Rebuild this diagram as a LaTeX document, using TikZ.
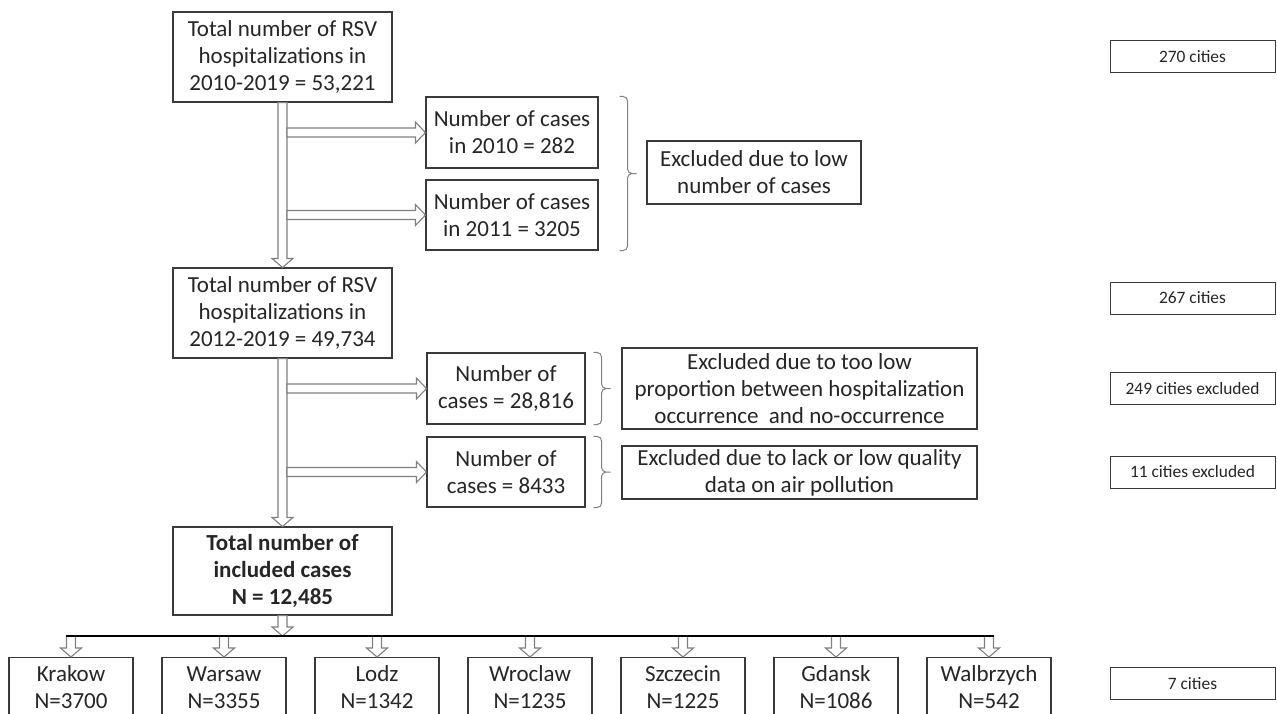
\documentclass[tikz,border=0pt]{standalone}
\usepackage{fontspec}
\setmainfont{Carlito}
\usetikzlibrary{calc}

\definecolor{boxline}{HTML}{3A3A3A}
\definecolor{arrline}{HTML}{808080}

\begin{document}
\begin{tikzpicture}[x=1pt, y=-1pt,
    box/.style={draw=boxline, line width=1.1pt, text=black!85, align=center,
        inner sep=0pt, font=\fontsize{23}{27}\selectfont},
    city/.style={box, anchor=north, minimum width=124pt, minimum height=60pt},
    cnt/.style={draw=boxline, line width=1pt, text=black!85, inner sep=0pt,
        minimum width=165pt, minimum height=32pt, font=\fontsize{17.4}{20}\selectfont},
    darrow/.style={draw=arrline, fill=white, line width=1.1pt, line join=miter,
        to path={let \p1=(\tikztostart), \p2=(\tikztotarget) in
        (\x1-4.5pt,\y1) -- (\x1-4.5pt,\y2+9pt) -- (\x1-10.5pt,\y2+9pt) -- (\x1,\y2)
        -- (\x1+10.5pt,\y2+9pt) -- (\x1+4.5pt,\y2+9pt) -- (\x1+4.5pt,\y1) -- cycle}},
    rarrow/.style={draw=arrline, fill=white, line width=1.1pt, line join=miter,
        to path={let \p1=(\tikztostart), \p2=(\tikztotarget) in
        (\x1,\y1+4.5pt) -- (\x2-10pt,\y1+4.5pt) -- (\x2-10pt,\y1+10.5pt) -- (\x2,\y1)
        -- (\x2-10pt,\y1-10.5pt) -- (\x2-10pt,\y1-4.5pt) -- (\x1,\y1-4.5pt) -- cycle}},
    brc/.style={draw=arrline, line width=1pt, rounded corners=4.5pt,
        to path={let \p1=(\tikztostart), \p2=(\tikztotarget), \n1={(\y1+\y2)/2} in
        (\x1,\y1) -- (\x1+8pt,\y1) -- (\x1+8pt,\n1) -- (\x1+17pt,\n1)
        (\x1,\y2) -- (\x1+8pt,\y2) -- (\x1+8pt,\n1) -- (\x1+17pt,\n1)}}
]
    \useasboundingbox[fill=white] (0,0) rectangle (1277,713);

    % Main column
    \node[box, minimum width=219pt, minimum height=90pt] (tot1) at (282.5,57)
        {Total number of RSV\\hospitalizations in\\2010-2019 = 53,221};
    \node[box, minimum width=219pt, minimum height=90pt] (tot2) at (282.5,313)
        {Total number of RSV\\hospitalizations in\\2012-2019 = 49,734};
    \node[box, minimum width=219pt, minimum height=88pt] (tot3) at (282.5,571)
        {\textbf{Total number of}\\\textbf{included cases}\\\textbf{N = 12,485}};

    % Excluded years
    \node[box, minimum width=172pt, minimum height=71pt] (n2010) at (512,132.5)
        {Number of cases\\in 2010 = 282};
    \node[box, minimum width=172pt, minimum height=70pt] (n2011) at (512,215)
        {Number of cases\\in 2011 = 3205};
    \node[box, minimum width=214pt, minimum height=63pt] (excl1) at (754,172.5)
        {Excluded due to low\\number of cases};

    % Excluded cities
    \node[box, minimum width=158pt, minimum height=71pt] (nprop) at (506,388.5)
        {Number of\\cases = 28,816};
    \node[box, minimum width=158pt, minimum height=70pt] (nair) at (506,472)
        {Number of\\cases = 8433};
    \node[box, minimum width=355pt, minimum height=81pt] (excl2) at (799.5,388.5)
        {Excluded due to too low\\proportion between hospitalization\\occurrence\ \ and no-occurrence};
    \node[box, minimum width=355pt, minimum height=53pt] (excl3) at (799.5,472.5)
        {Excluded due to lack or low quality\\data on air pollution};

    % Spine
    \draw[darrow] (tot1.south) to (tot2.north);
    \draw[darrow] (tot2.south) to (tot3.north);
    \draw[rarrow] ([xshift=4.5pt]tot1.south |- n2010.west) to (n2010.west);
    \draw[rarrow] ([xshift=4.5pt]tot1.south |- n2011.west) to (n2011.west);
    \draw[rarrow] ([xshift=4.5pt]tot2.south |- nprop.west) to (nprop.west);
    \draw[rarrow] ([xshift=4.5pt]tot2.south |- nair.west) to (nair.west);

    % Braces
    \draw[brc] ([xshift=21pt]n2010.north east) to ([xshift=21pt]n2011.south east);
    \draw[brc] ([xshift=8pt]nprop.north east) to ([xshift=8pt]nprop.south east);
    \draw[brc] ([xshift=8pt]nair.north east) to ([xshift=8pt]nair.south east);

    % Cities
    \coordinate (bar) at (0,636);
    \draw[darrow] (tot3.south) to (tot3.south |- bar);
    \foreach \nm/\cx/\nn in {Krakow/71/3700, Warsaw/224/3355, Lodz/377/1342,
        Wroclaw/530/1235, Szczecin/683/1225, Gdansk/836/1086, Walbrzych/989/542} {
        \node[city] (c\nm) at (\cx,657) {\nm\\N=\nn};
        \draw[darrow] (bar -| c\nm.north) to (c\nm.north);
    }
    \draw[line width=2.5pt] ([xshift=-5pt]bar -| cKrakow.north) -- ([xshift=5pt]bar -| cWalbrzych.north);

    % City counts
    \node[cnt] (k270) at (1192.5,56.5) {270 cities};
    \node[cnt] (k267) at (1192.5,298) {267 cities};
    \node[cnt] (k249) at (1192.5,388.5) {249 cities excluded};
    \node[cnt] (k11) at (1192.5,472) {11 cities excluded};
    \node[cnt] (k7) at (1192.5,683.5) {7 cities};
\end{tikzpicture}
\end{document}
